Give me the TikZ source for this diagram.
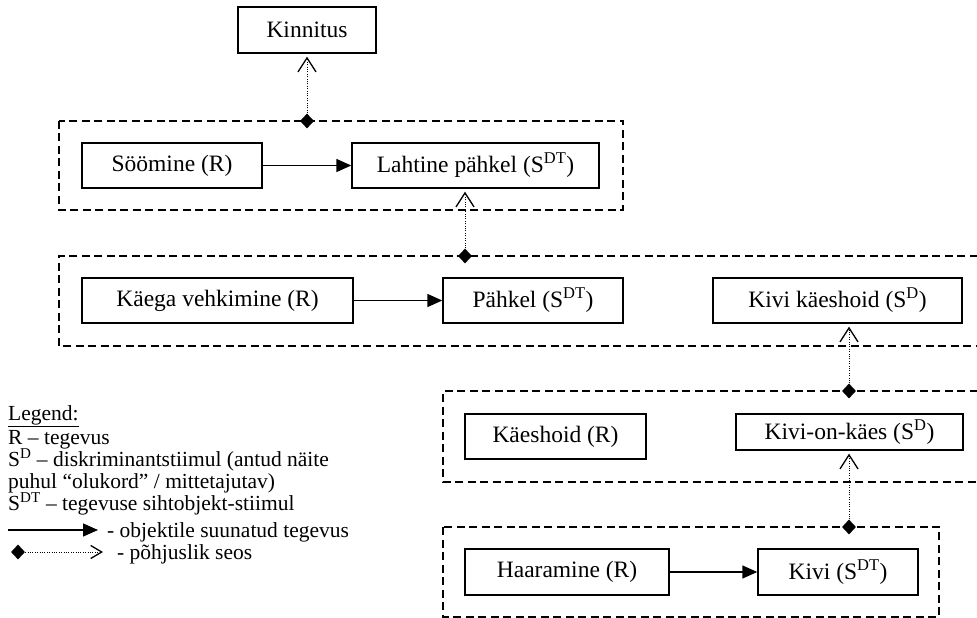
\documentclass[tikz,border=0pt]{standalone}
\usepackage{fontspec}
\setmainfont{Liberation Serif}
\usetikzlibrary{arrows.meta,shapes.geometric}
\newcommand{\boxfont}{\fontsize{23.5bp}{28bp}\selectfont}
\newcommand{\legfont}{\fontsize{21.5bp}{21.5bp}\selectfont}
\begin{document}
\begin{tikzpicture}[x=1bp,y=-1bp,
  box/.style={draw,line width=1.4bp,inner sep=0pt,font=\boxfont},
  grp/.style={line width=1.3bp,dash pattern=on 8bp off 4.5bp},
  act/.style={line width=1.4bp,-{Triangle[length=15bp,width=13bp]}},
  cause/.style={line width=1bp,dash pattern=on 1bp off 1.4bp,
    -{Straight Barb[length=14bp,width=18bp,line width=1.3bp]},shorten >=3bp},
  causeleg/.style={line width=1bp,dash pattern=on 1bp off 1.4bp,
    -{Straight Barb[length=11bp,width=13bp,line width=1.3bp]}},
  dia/.style={diamond,fill,draw=none,inner sep=0pt,minimum width=14bp,minimum height=15bp},
  leg/.style={anchor=base west,inner sep=0pt,font=\legfont}
]
\useasboundingbox (0,0) rectangle (977,618);
\clip (0,0) rectangle (977,618);

% groups
\draw[grp] (59,121) rectangle (623,210);
\draw[grp] (990,256) -- (59,256) -- (59,346) -- (990,346);
\draw[grp] (990,391) -- (443,391) -- (443,482) -- (990,482);
\draw[grp] (443,527) rectangle (939,617);

% boxes
\node[box,minimum width=138bp,minimum height=46bp] (kin) at (307,30) {Kinnitus};
\node[box,minimum width=180bp,minimum height=45bp] (soo) at (172,165.5) {Söömine (R)};
\node[box,minimum width=247bp,minimum height=45bp] (lah) at (475.5,165.5) {Lahtine pähkel (S\textsuperscript{DT})};
\node[box,minimum width=271bp,minimum height=45bp] (kae) at (217.5,300.5) {Käega vehkimine (R)};
\node[box,minimum width=180bp,minimum height=45bp] (pah) at (533,300.5) {Pähkel (S\textsuperscript{DT})};
\node[box,minimum width=249bp,minimum height=45bp] (kkh) at (837.5,300.5) {Kivi käeshoid (S\textsuperscript{D})};
\node[box,minimum width=181bp,minimum height=45bp] (ksh) at (555.5,436.5) {Käeshoid (R)};
\node[box,minimum width=227bp,minimum height=36bp] (kok) at (849.5,432) {Kivi-on-käes (S\textsuperscript{D})};
\node[box,minimum width=204bp,minimum height=46bp] (haa) at (567,572) {Haaramine (R)};
\node[box,minimum width=160bp,minimum height=46bp] (kiv) at (838,572) {Kivi (S\textsuperscript{DT})};

% action arrows
\draw[act] (soo) -- (lah);
\draw[act] (kae) -- (pah);
\draw[act] (haa) -- (kiv);

% causal links
\node[dia] (d1) at (307,121) {};
\node[dia] (d2) at (465,256) {};
\node[dia] (d3) at (849,391) {};
\node[dia] (d4) at (849,527) {};
\draw[cause] (d1) -- (kin);
\draw[cause] (d2) -- (lah.south -| d2);
\draw[cause] (d3) -- (kkh.south -| d3);
\draw[cause] (d4) -- (kok.south -| d4);

% legend
\node[leg] (lg0) at (8,420) {\underline{Legend:}};
\node[leg] (lg1) at (8,444) {R – tegevus};
\node[leg] (lg2) at (8,466) {S\textsuperscript{D} – diskriminantstiimul (antud näite};
\node[leg] (lg3) at (8,488) {puhul “olukord” / mittetajutav)};
\node[leg] (lg4) at (8,510) {S\textsuperscript{DT} – tegevuse sihtobjekt-stiimul};
\coordinate (la1) at (8,530);
\coordinate (la2) at (98,530);
\draw[act] (la1) -- (la2);
\node[leg] (lg5) at (107,537) {- objektile suunatud tegevus};
\node[dia] (ld) at (18,552) {};
\coordinate (lc) at (103,552);
\draw[causeleg] (ld) -- (lc);
\node[leg] (lg6) at (117,559) {- põhjuslik seos};
\end{tikzpicture}
\end{document}
